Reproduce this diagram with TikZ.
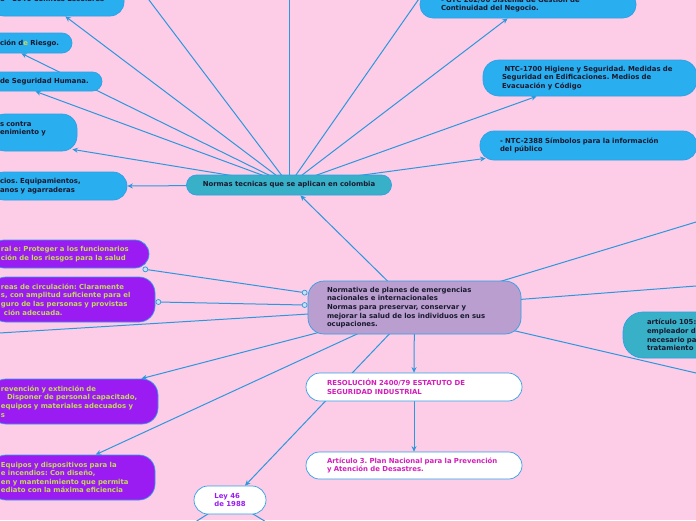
\documentclass[tikz,border=0pt]{standalone}
\usepackage{fontspec}
\setmainfont{DejaVu Sans}
\usetikzlibrary{arrows.meta,calc}
\frenchspacing
\definecolor{bgpink}{RGB}{253,204,230}
\definecolor{edgeblue}{RGB}{43,152,222}
\definecolor{boxblue}{RGB}{41,174,239}
\definecolor{boxborder}{RGB}{46,160,230}
\definecolor{tealbox}{RGB}{56,176,200}
\definecolor{lavender}{RGB}{186,158,208}
\definecolor{violetbox}{RGB}{155,28,242}
\definecolor{limetext}{RGB}{196,218,88}
\definecolor{magtext}{RGB}{212,30,186}
\definecolor{darktext}{RGB}{25,25,45}
\definecolor{dotfill}{RGB}{200,225,245}
\pgfdeclarelayer{bg}\pgfdeclarelayer{edges}
\pgfsetlayers{bg,edges,main}
\newcommand\fs{\fontsize{6.9}{8.6}\selectfont\bfseries\frenchspacing}
\tikzset{
  mm/.style={rectangle, rounded corners=#1, draw=boxborder, line width=0.7pt,
    inner ysep=0pt, align=left, font=\fs, text=darktext},
  bluebox/.style={mm=#1, fill=boxblue},
  tealnode/.style={mm=#1, fill=tealbox},
  purplebox/.style={mm=#1, fill=violetbox, text=limetext},
  whitebox/.style={mm=#1, fill=white, text=magtext},
  conn/.style={draw=edgeblue, line width=1pt},
  arr/.style={conn, -{Stealth[length=5.5pt,width=5pt]}},
  dot/.style={circle, draw=edgeblue, fill=dotfill, inner sep=0pt, minimum size=5pt, line width=0.7pt},
}
\begin{document}
\begin{tikzpicture}[x=1pt,y=-1pt]
\useasboundingbox (0,0) rectangle (696,520);
\clip (0,0) rectangle (696,520);
\begin{pgfonlayer}{bg}
  \fill[bgpink] (0,0) rectangle (696,520);
\end{pgfonlayer}

% ---- nodes ----
\node[tealnode=10pt, minimum width=205pt, minimum height=20pt, align=center] (normas) at (289,185)
  {Normas tecnicas que se aplican en colombia};
\node[mm=16pt, fill=lavender, minimum width=213pt, minimum height=53pt, inner xsep=19pt, text width=175pt] (central) at (414.5,307.5)
  {Normativa de planes de emergencias\\nacionales e internacionales\\Normas para preservar, conservar y\\mejorar la salud de los individuos en sus\\ocupaciones.};

% top-left blue nodes (cut by the left edge)
\node[bluebox=14pt, minimum width=134pt, minimum height=34pt, inner xsep=10pt, text width=114pt] (n1) at (57,-1)
  {e - 1646 Comités Escolares};
\node[bluebox=10pt, minimum width=82pt, minimum height=20pt, inner xsep=10pt, text width=62pt] (n2) at (31,43)
  {ción d{\color{limetext}e} Riesgo.};
\node[bluebox=9.5pt, minimum width=112pt, minimum height=19pt, inner xsep=10pt, text width=92pt] (n3) at (46,81.5)
  {de Seguridad Humana.};
\node[bluebox=15pt, minimum width=87pt, minimum height=37pt, inner xsep=10pt, text width=67pt] (n4) at (33.5,132.5)
  {s contra\\enimiento y\\\mbox{}};
\node[bluebox=14pt, minimum width=137pt, minimum height=28pt, inner xsep=10pt, text width=117pt] (n5) at (58.5,186)
  {cios. Equipamientos,\\anos y agarraderas};

% right blue nodes
\node[bluebox=13pt, minimum width=216pt, minimum height=27pt, inner xsep=21pt, text width=174pt] (n6) at (528,4.5)
  {- GTC 202/06 Sistema de Gestión de\\Continuidad del Negocio.};
\node[bluebox=16pt, minimum width=214pt, minimum height=36pt, inner xsep=19pt, text width=176pt] (n7) at (590,78)
  {\hspace{2.5pt}NTC-1700 Higiene y Seguridad. Medidas de\\Seguridad en Edificaciones. Medios de\\Evacuación y Código};
\node[bluebox=14pt, minimum width=217pt, minimum height=29pt, inner xsep=20pt, text width=177pt] (n8) at (588.5,145.5)
  {- NTC-2388 Símbolos para la información\\del público};
\node[tealnode=20pt, minimum width=137pt, minimum height=46pt, inner xsep=24pt, text width=89pt] (n9) at (691.5,335)
  {artículo 105:\\empleador d\\necesario pa\\tratamiento};

% purple nodes
\node[purplebox=14pt, minimum width=159pt, minimum height=28pt, inner xsep=11pt, text width=137pt] (pA) at (69.5,254)
  {ral e: Proteger a los funcionarios\\ción de los riesgos para la salud};
\node[purplebox=16pt, minimum width=165pt, minimum height=45pt, inner xsep=11pt, text width=143pt] (pB) at (72.5,299.5)
  {reas de circulación: Claramente\\s, con amplitud suficiente para el\\guro de las personas y provistas\\\hspace{3pt}ción adecuada.};
\node[purplebox=16pt, minimum width=168pt, minimum height=45pt, inner xsep=11pt, text width=146pt] (pC) at (74,401.5)
  {revención y extinción de\\\hspace{6pt}Disponer de personal capacitado,\\equipos y materiales adecuados y\\s};
\node[purplebox=16pt, minimum width=165pt, minimum height=45pt, inner xsep=11pt, text width=143pt] (pD) at (72.5,477.5)
  {Equipos y dispositivos para la\\e incendios: Con diseño,\\en y mantenimiento que permita\\ediato con la máxima eficiencia};

% white nodes
\node[whitebox=14pt, minimum width=216pt, minimum height=28pt, inner xsep=21pt, text width=174pt] (res) at (414,387)
  {RESOLUCIÓN 2400/79 ESTATUTO DE\\SEGURIDAD INDUSTRIAL};
\node[whitebox=13.5pt, minimum width=216pt, minimum height=27pt, inner xsep=21pt, text width=174pt] (art3) at (414,465.5)
  {Artículo 3. Plan Nacional para la Prevención\\y Atención de Desastres.};
\node[whitebox=14pt, text=violetbox, minimum width=72pt, minimum height=28pt] (ley) at (230,500)
  {Ley 46\\de 1988};

% connector dots
\node[dot] (dA1) at ($(pA.south east)+(-4,1)$) {};
\node[dot] (dA2) at ($(central.north west)+(-3,12)$) {};
\node[dot] (dB1) at ($(pB.east)+(3,2.5)$) {};
\node[dot] (dB2) at ($(central.west)+(-3,-2.5)$) {};

% free ends
\coordinate (oT1) at (289,-30);
\coordinate (oT2) at (121,-37);
\coordinate (oT3) at (444,-37);
\coordinate (oL) at (-30,334.8);
\coordinate (oR1) at (730,211.7);
\coordinate (oR2) at (730,283.4);
\coordinate (oR3) at (730,380.9);
\coordinate (oB1) at (181,531);
\coordinate (oB2) at (281,531);

% ---- connectors ----
\begin{pgfonlayer}{edges}
  \draw[conn] (normas.center) -- (oT1);
  \draw[conn] (normas.center) -- (oT2);
  \draw[conn] (normas.center) -- (oT3);
  \draw[arr] (normas.center) -- ($(n1.south east)+(-59,0)$);
  \draw[arr] (normas.center) -- ($(n2.south east)+(-51,0)$);
  \draw[arr] (normas.center) -- ($(n3.south east)+(-67,0)$);
  \draw[arr] (normas.center) -- ($(n4.south east)+(-5,-2)$);
  \draw[arr] (normas.center) -- (n5.east);
  \draw[arr] (normas.center) -- ($(n6.south west)+(88,0)$);
  \draw[arr] (normas.center) -- ($(n7.south west)+(54,0)$);
  \draw[arr] (normas.center) -- ($(n8.south west)+(6,-2)$);

  \draw[arr] (central.center) -- ($(normas.south east)+(-91.5,0)$);
  \draw[conn] (dA1) -- (dA2);
  \draw[conn] (dB1) -- (dB2);
  \draw[conn] (central.center) -- (oL);
  \draw[arr] (central.center) -- ($(pC.north east)+(-17,0)$);
  \draw[arr] (central.center) -- ($(pD.north west)+(106,0)$);
  \draw[arr] (central.center) -- ($(ley.north)+(15,0)$);
  \draw[arr] (central.center) -- (res.north);
  \draw[arr] (res.center) -- (art3.north);
  \draw[conn] (central.center) -- (oR1);
  \draw[conn] (central.center) -- (oR2);
  \draw[conn] (central.center) -- (oR3);
  \draw[conn] (ley.center) -- (oB1);
  \draw[conn] (ley.center) -- (oB2);
\end{pgfonlayer}
\end{tikzpicture}
\end{document}
